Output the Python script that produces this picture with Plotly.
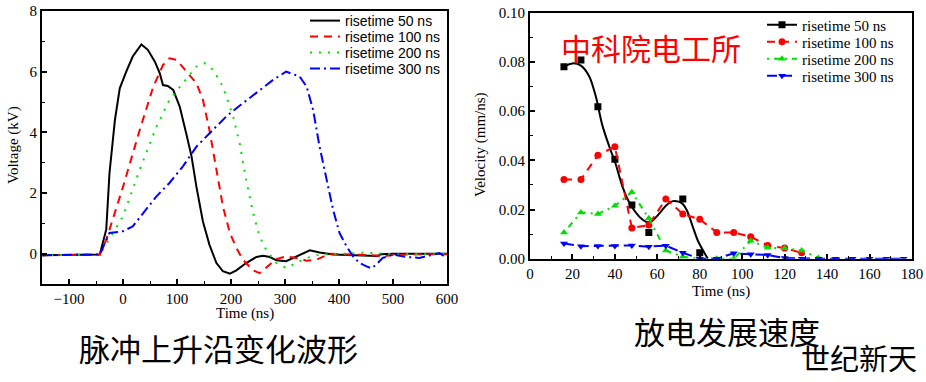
import plotly.graph_objects as go

# ---------------- Left chart: voltage waveforms ----------------
v50_x = [-150,-100,-60,-43,-31,-25,-15,-6,6,18,34,46,59,68,74,83,93,105,117,127,136,148,160,173,185,198,210,228,247,259,272,284,302,321,346,364,389,430,470,478,500,550,600]
v50_y = [-0.05,-0.05,-0.05,-0.03,0.8,2.66,4.4,5.45,6.0,6.5,6.9,6.72,6.33,5.95,5.56,5.53,5.4,4.85,3.97,3.2,2.2,1.06,0.3,-0.31,-0.58,-0.66,-0.55,-0.31,-0.11,-0.07,-0.11,-0.22,-0.25,-0.09,0.11,0.04,-0.03,-0.05,-0.08,-0.02,0.0,0.0,0.0]

v100_x = [-150,-100,-60,-43,-31,0,31,56,74,86,99,117,136,148,160,173,185,198,210,222,241,253,265,284,302,321,340,358,383,420,470,480,500,550,600]
v100_y = [-0.05,-0.05,-0.05,-0.03,0.46,2.2,4.08,5.5,6.22,6.44,6.39,6.0,5.62,5.07,4.08,2.77,1.56,0.68,0.19,-0.2,-0.55,-0.64,-0.47,-0.18,-0.09,-0.14,-0.23,-0.2,0.0,-0.03,-0.06,-0.1,-0.04,-0.02,-0.02]

v200_x = [-150,-100,-60,-43,0,31,62,86,111,136,151,167,185,204,216,228,241,253,265,284,302,321,340,364,400,450,500,550,600]
v200_y = [-0.05,-0.05,-0.05,-0.03,1.23,2.77,4.19,5.07,5.62,6.17,6.28,6.06,5.51,4.52,3.64,2.44,1.34,0.57,0.13,-0.31,-0.47,-0.31,-0.14,-0.03,0.0,0.03,-0.02,0.0,0.0]

v300_x = [-150,-100,-60,-43,-25,0,18,37,62,86,111,136,160,191,222,253,278,302,327,340,352,364,377,389,401,414,426,438,451,460,469,481,500,525,549,574,586,600]
v300_y = [-0.05,-0.05,-0.05,-0.03,0.68,0.74,0.9,1.34,1.89,2.33,2.88,3.53,3.97,4.52,4.96,5.4,5.73,6.0,5.84,5.51,4.74,3.53,2.44,1.45,0.68,0.24,-0.09,-0.31,-0.42,-0.48,-0.36,-0.14,-0.03,-0.11,-0.14,-0.03,0.02,-0.14]

# ---------------- Right chart: discharge velocity ----------------
s50_x = [16,24,32,40,48,56,72,80]
s50_y = [0.078,0.0808,0.0618,0.0404,0.0218,0.0107,0.0243,0.0024]
fit50_x = [16,20,24,28,31,34,37.4,40,43.7,47,51.6,55,57,61,64,67.3,70,72,74,76.7,79,81.4,83.8]
fit50_y = [0.0782,0.0794,0.0785,0.074,0.066,0.0545,0.0455,0.0395,0.029,0.0225,0.017,0.0149,0.015,0.0184,0.0215,0.0234,0.0232,0.0222,0.0195,0.013,0.0075,0.0035,0.0]

s100_x = [16,24,32,40,48,56,64,72,80,88,96,104,112,120,128]
s100_y = [0.0322,0.0322,0.0421,0.0455,0.0125,0.0137,0.0243,0.0182,0.016,0.0107,0.0107,0.0089,0.0054,0.0043,0.0024]

s200_x = [16,24,32,40,48,56,64,72,80,88,96,104,112,120,128,136]
s200_y = [0.0107,0.0188,0.0182,0.0215,0.027,0.0164,0.0033,0.0008,0.0,0.0,0.0,0.0073,0.0045,0.0042,0.0033,0.0003]

s300_x = [16,24,32,40,48,56,64,72,80,88,96,104,112,120,128,136,144,152,160,168,176]
s300_y = [0.0062,0.0051,0.0052,0.0052,0.0054,0.0049,0.0053,0.0024,0.0,0.0,0.0022,0.0018,0.0015,0.0003,0.0,0.0,0.0,0.0,0.0,0.0,0.0]

labels = ["risetime 50 ns", "risetime 100 ns", "risetime 200 ns", "risetime 300 ns"]
colors = ["#000000", "#ff0000", "#00e000", "#0000ff"]

serif = "Liberation Serif"
W, H = 926, 382


def fx(px):
    return px / W


def fy(py):
    return 1 - py / H


fig = go.Figure()

# Left traces, each in its own one-row legend
left_dash = ["solid", "8px,6px", "2px,7px", "10px,4px,2px,4px"]
left_legends = ["legend", "legend2", "legend3", "legend4"]
for (xs, ys), lab, col, d, lg in zip([(v50_x, v50_y), (v100_x, v100_y), (v200_x, v200_y), (v300_x, v300_y)],
                                     labels, colors, left_dash, left_legends):
    fig.add_trace(go.Scatter(x=xs, y=ys, mode="lines", name=lab, xaxis="x", yaxis="y",
                             line=dict(color=col, width=2, dash=d), legend=lg))

# Right traces
fig.add_trace(go.Scatter(x=fit50_x, y=fit50_y, mode="lines", xaxis="x2", yaxis="y2",
                         line=dict(color="#000000", width=2, shape="spline", smoothing=0.8),
                         showlegend=False))
right_sets = [(s50_x, s50_y, "square", None), (s100_x, s100_y, "circle", "8px,6px"),
              (s200_x, s200_y, "triangle-up", "2px,5px,6px,5px"), (s300_x, s300_y, "triangle-down", "10px,5px")]
right_legends = ["legend5", "legend6", "legend7", "legend8"]
for (xs, ys, sym, d), lab, col, lg in zip(right_sets, labels, colors, right_legends):
    if d is None:
        fig.add_trace(go.Scatter(x=xs, y=ys, mode="markers", xaxis="x2", yaxis="y2",
                                 marker=dict(symbol=sym, size=7, color=col), showlegend=False))
        fig.add_trace(go.Scatter(x=[None], y=[None], mode="lines+markers", name=lab, xaxis="x2", yaxis="y2",
                                 line=dict(color=col, width=2), marker=dict(symbol=sym, size=7, color=col),
                                 legend=lg))
    else:
        fig.add_trace(go.Scatter(x=xs, y=ys, mode="lines+markers", name=lab, xaxis="x2", yaxis="y2",
                                 line=dict(color=col, width=2, dash=d),
                                 marker=dict(symbol=sym, size=7, color=col), legend=lg))

axis_common = dict(showline=True, linecolor="black", linewidth=2, mirror=True, ticks="inside",
                   ticklen=5, tickwidth=1.5, tickcolor="black", showgrid=False, zeroline=False,
                   automargin=False, ticklabeloverflow="allow",
                   tickfont=dict(family=serif, size=15, color="black"),
                   minor=dict(ticks="inside", ticklen=3, tickwidth=1, tickcolor="black"))

layout = dict(
    width=W, height=H, margin=dict(l=0, r=0, t=0, b=0, autoexpand=False),
    font=dict(family=serif, size=15, color="black"),
    paper_bgcolor="white", plot_bgcolor="white",
    xaxis=dict(domain=[fx(42), fx(447)], range=[-150, 600], dtick=100, tick0=0,
               minor_dtick=50, anchor="y", **axis_common),
    yaxis=dict(domain=[fy(284), fy(11)], range=[-1, 8], dtick=2, tick0=0,
               minor_dtick=1, anchor="x", **axis_common),
    xaxis2=dict(domain=[fx(530), fx(912)], range=[0, 180], dtick=20,
                minor_dtick=10, anchor="y2", **axis_common),
    yaxis2=dict(domain=[fy(258.7), fy(12.7)], range=[0, 0.10], dtick=0.02, tickformat=".2f",
                minor_dtick=0.01, anchor="x2", **axis_common),
)
left_rows = [20, 36, 52, 68]
for lg, yc in zip(left_legends, left_rows):
    layout[lg] = dict(x=fx(305), y=fy(yc + 1), xanchor="left", yanchor="middle", bgcolor="rgba(0,0,0,0)",
                      font=dict(family="Liberation Sans", size=14, color="black"), itemwidth=30)
right_rows = [26, 43, 60, 77]
for lg, yc in zip(right_legends, right_rows):
    layout[lg] = dict(x=fx(762), y=fy(yc - 1), xanchor="left", yanchor="middle", bgcolor="rgba(0,0,0,0)",
                      font=dict(family=serif, size=15, color="black"), itemwidth=30)
fig.update_layout(**layout)


def note(text, x, y, family, size, color="black", angle=0):
    fig.add_annotation(text=text, x=fx(x), y=fy(y), xref="paper", yref="paper", xanchor="center",
                       yanchor="middle", showarrow=False, textangle=angle,
                       font=dict(family=family, size=size, color=color))


# axis titles
note("Time (ns)", 245, 313, serif, 15)
note("Voltage (kV)", 13, 145, serif, 15, angle=-90)
note("Time (ns)", 721, 291, serif, 15)
note("Velocity (mm/ns)", 480, 145, serif, 15, angle=-90)

cjk = "Noto Sans CJK SC"
note("中科院电工所", 651, 47, cjk, 30, color="#ff0000")
note("脉冲上升沿变化波形", 218, 347, cjk, 31)
note("放电发展速度", 727, 330, cjk, 31)
note("世纪新天", 859, 357, cjk, 29)

# remove the browser's default page margin so the figure sits at the window's top-left corner
fig.write_html("out.html", config={"displayModeBar": False},
               post_script="document.body.style.margin='0';")
